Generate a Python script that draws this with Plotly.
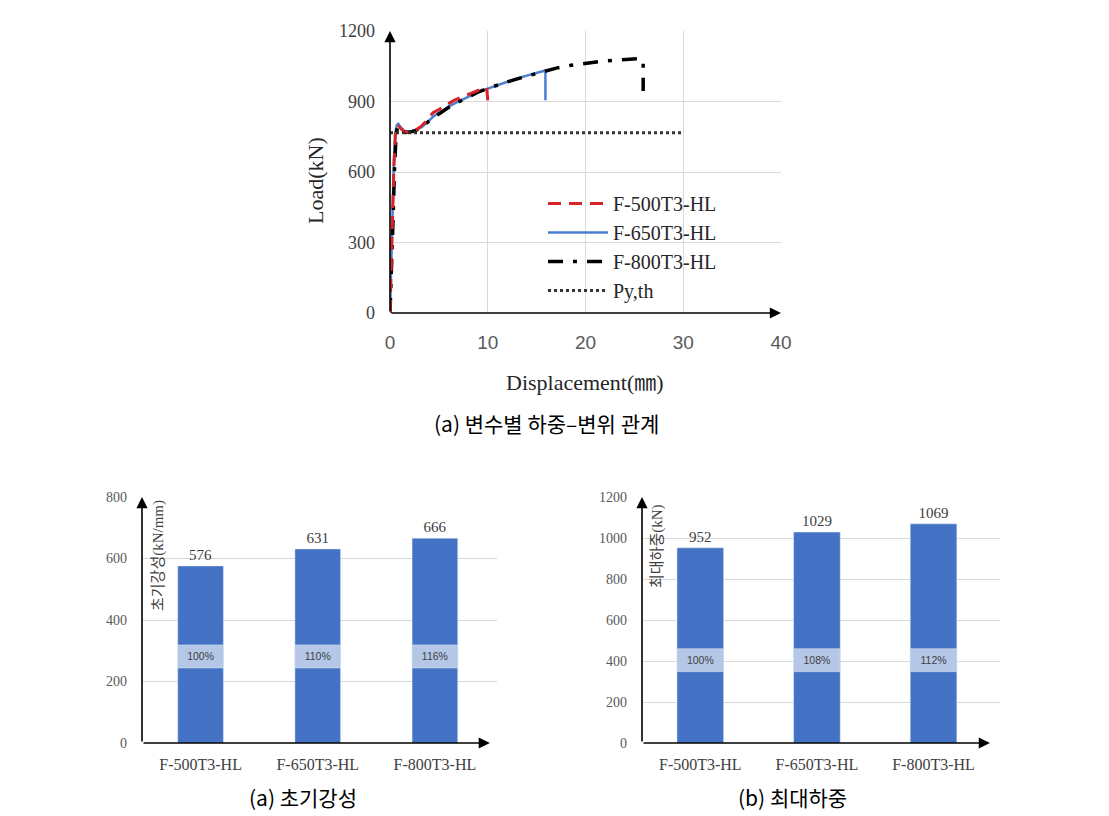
import plotly.graph_objects as go

# ---------------- data ----------------
disp_500 = [0, 0.1, 0.25, 0.4, 0.55, 0.7, 0.85, 1.1, 1.5, 2.0, 2.6, 3.2, 3.8, 4.4, 5.0, 5.8, 6.6, 7.5, 8.5, 9.3, 9.9, 10.0]
load_500 = [0, 180, 420, 620, 760, 795, 800, 785, 770, 770, 778, 795, 822, 852, 866, 886, 906, 922, 940, 952, 958, 905]

disp_650 = [0, 0.1, 0.25, 0.4, 0.55, 0.7, 0.85, 1.1, 1.5, 2.0, 2.6, 3.2, 3.8, 4.4, 5.0, 6.0, 7.0, 8.0, 9.0, 10.0,
            11.0, 12.0, 13.0, 14.0, 15.0, 15.9, 15.9]
load_650 = [0, 200, 450, 650, 770, 800, 805, 790, 775, 772, 778, 790, 810, 835, 852, 878, 900, 920, 940, 955,
            970, 985, 998, 1010, 1022, 1032, 905]

disp_800 = [0, 0.15, 0.3, 0.45, 0.6, 0.75, 0.9, 1.2, 1.6, 2.1, 2.7, 3.3, 3.9, 4.5, 5.2, 6.0, 7.0, 8.0, 9.0, 10.0,
            11.0, 12.5, 14.0, 15.5, 17.0, 18.5, 20.0, 21.5, 23.0, 24.5, 25.4, 25.9, 25.9]
load_800 = [0, 150, 380, 600, 740, 790, 795, 782, 768, 770, 778, 792, 812, 835, 852, 875, 898, 920, 940, 956,
            970, 990, 1008, 1025, 1042, 1054, 1063, 1070, 1076, 1080, 1082, 1075, 945]

disp_py = [0, 30]
load_py = [767, 767]

specimens = ["F-500T3-HL", "F-650T3-HL", "F-800T3-HL"]
init_stiffness = [576, 631, 666]
max_load = [952, 1029, 1069]
stiff_ratio = ["100%", "110%", "116%"]
load_ratio = ["100%", "108%", "112%"]
stiff_band_low = [244, 244, 244]
stiff_band_high = [319, 319, 319]
load_band_low = [348, 348, 348]
load_band_high = [460, 460, 460]

# ---------------- figure ----------------
SERIF = "Liberation Serif, Times New Roman, Noto Sans CJK KR, serif"
SANS = "Liberation Sans, Arial, sans-serif"
KR = "Noto Sans CJK KR, sans-serif"
BAR = "#4472C4"
BAND = "#B4C7E7"
GRID = "#d9d9d9"

fig = go.Figure()

fig.add_trace(go.Scatter(x=disp_650, y=load_650, mode="lines", name="F-650T3-HL",
                         line=dict(color="#4a7fd0", width=2.5), legendrank=2,
                         xaxis="x", yaxis="y"))
fig.add_trace(go.Scatter(x=disp_800, y=load_800, mode="lines", name="F-800T3-HL",
                         line=dict(color="black", width=3.5, dash="15px,10px,4px,10px"), legendrank=3,
                         xaxis="x", yaxis="y"))
fig.add_trace(go.Scatter(x=disp_500, y=load_500, mode="lines", name="F-500T3-HL",
                         line=dict(color="#d9232a", width=3, dash="13px,8px"), legendrank=1,
                         xaxis="x", yaxis="y"))
fig.add_trace(go.Scatter(x=disp_py, y=load_py, mode="lines", name="Py,th",
                         line=dict(color="#333333", width=3, dash="3px,3px"), legendrank=4,
                         xaxis="x", yaxis="y"))

# bottom-left bars
fig.add_trace(go.Bar(x=specimens, y=init_stiffness, marker_color=BAR, width=0.39,
                     text=[str(v) for v in init_stiffness], textposition="outside",
                     textfont=dict(family=SERIF, size=15, color="#404040"), cliponaxis=False,
                     showlegend=False, xaxis="x2", yaxis="y2"))
fig.add_trace(go.Bar(x=specimens, base=stiff_band_low,
                     y=[h - l for h, l in zip(stiff_band_high, stiff_band_low)],
                     marker_color=BAND, width=0.39, text=stiff_ratio, textposition="inside",
                     insidetextanchor="middle", textfont=dict(family=SANS, size=10.5, color="#404040"),
                     showlegend=False, xaxis="x2", yaxis="y2"))

# bottom-right bars
fig.add_trace(go.Bar(x=specimens, y=max_load, marker_color=BAR, width=0.40,
                     text=[str(v) for v in max_load], textposition="outside",
                     textfont=dict(family=SERIF, size=15, color="#404040"), cliponaxis=False,
                     showlegend=False, xaxis="x3", yaxis="y3"))
fig.add_trace(go.Bar(x=specimens, base=load_band_low,
                     y=[h - l for h, l in zip(load_band_high, load_band_low)],
                     marker_color=BAND, width=0.40, text=load_ratio, textposition="inside",
                     insidetextanchor="middle", textfont=dict(family=SANS, size=10.5, color="#404040"),
                     showlegend=False, xaxis="x3", yaxis="y3"))

fig.update_layout(
    width=1109, height=816, margin=dict(l=0, r=0, t=0, b=0, autoexpand=False),
    paper_bgcolor="white", plot_bgcolor="white", barmode="overlay",
    hovermode=False,
    xaxis=dict(domain=[390 / 1109, 781 / 1109], range=[0, 40], dtick=10, showgrid=True, gridcolor=GRID,
               zeroline=False, showline=False, ticks="", ticklabelstandoff=16, automargin=False,
               tickfont=dict(family=SANS, size=19, color="#595959"), anchor="y"),
    yaxis=dict(domain=[1 - 313 / 816, 1 - 31 / 816], range=[0, 1200], dtick=300, showgrid=True, gridcolor=GRID,
               zeroline=False, showline=False, ticks="", ticklabelstandoff=14, automargin=False,
               tickfont=dict(family=SERIF, size=18, color="#404040"), anchor="x"),
    xaxis2=dict(domain=[142 / 1109, 497 / 1109], range=[-0.5, 2.53], type="category", showgrid=False,
                zeroline=False, showline=False, ticks="", ticklabelstandoff=10, automargin=False,
                tickfont=dict(family=SERIF, size=16, color="#404040"), anchor="y2"),
    yaxis2=dict(domain=[1 - 743 / 816, 1 - 497 / 816], range=[0, 800], dtick=200, showgrid=True, gridcolor=GRID,
                zeroline=False, showline=False, ticks="", ticklabelstandoff=14, automargin=False,
                tickfont=dict(family=SERIF, size=14, color="#595959"), anchor="x2"),
    xaxis3=dict(domain=[642 / 1109, 1000 / 1109], range=[-0.5, 2.57], type="category", showgrid=False,
                zeroline=False, showline=False, ticks="", ticklabelstandoff=10, automargin=False,
                tickfont=dict(family=SERIF, size=16, color="#404040"), anchor="y3"),
    yaxis3=dict(domain=[1 - 743 / 816, 1 - 497 / 816], range=[0, 1200], dtick=200, showgrid=True, gridcolor=GRID,
                zeroline=False, showline=False, ticks="", ticklabelstandoff=14, automargin=False,
                tickfont=dict(family=SERIF, size=14, color="#595959"), anchor="x3"),
    legend=dict(x=543 / 1109, y=1 - 247 / 816, xanchor="left", yanchor="middle", bgcolor="rgba(0,0,0,0)",
                font=dict(family=SERIF, size=20, color="#262626"), itemwidth=60, tracegroupgap=0,
                traceorder="normal"),
)

ann = []
# axis arrows
def arrows(xr, yr, xtip):
    ann.append(dict(xref=xr + " domain", yref=yr + " domain", x=0, y=1, axref=xr + " domain",
                    ayref=yr + " domain", ax=0, ay=0, showarrow=True, arrowhead=2, arrowsize=1.4,
                    arrowwidth=1.6, arrowcolor="black", text=""))
    ann.append(dict(xref=xr + " domain", yref=yr + " domain", x=xtip, y=0, axref=xr + " domain",
                    ayref=yr + " domain", ax=0, ay=0, showarrow=True, arrowhead=2, arrowsize=1.4,
                    arrowwidth=1.6, arrowcolor="black", text=""))

arrows("x", "y", 1.0)
arrows("x2", "y2", 0.98)
arrows("x3", "y3", 0.972)

def label(x, y, text, font, xref="paper", yref="paper", angle=0):
    ann.append(dict(xref=xref, yref=yref, x=x, y=y, text=text, textangle=angle, showarrow=False,
                    xanchor="center", yanchor="middle", font=font))

# axis titles
label(585 / 1109, 1 - 382 / 816, "Displacement(㎜)", dict(family=SERIF, size=22, color="#262626"))
label(315 / 1109, 1 - 180 / 816, "Load(kN)", dict(family=SERIF, size=22, color="#262626"), angle=-90)
label(158 / 1109, 1 - 556 / 816, "초기강성(kN/mm)", dict(family=SERIF, size=15, color="#404040"), angle=-90)
label(657 / 1109, 1 - 546 / 816, "최대하중(kN)", dict(family=SERIF, size=15, color="#404040"), angle=-90)
# captions
label(546 / 1109, 1 - 423 / 816, "(a) 변수별 하중–변위 관계", dict(family=KR, size=21, color="black"))
label(303 / 1109, 1 - 797 / 816, "(a) 초기강성", dict(family=KR, size=21, color="black"))
label(792 / 1109, 1 - 797 / 816, "(b) 최대하중", dict(family=KR, size=21, color="black"))

fig.update_layout(annotations=ann)
fig.write_html("out.html")
